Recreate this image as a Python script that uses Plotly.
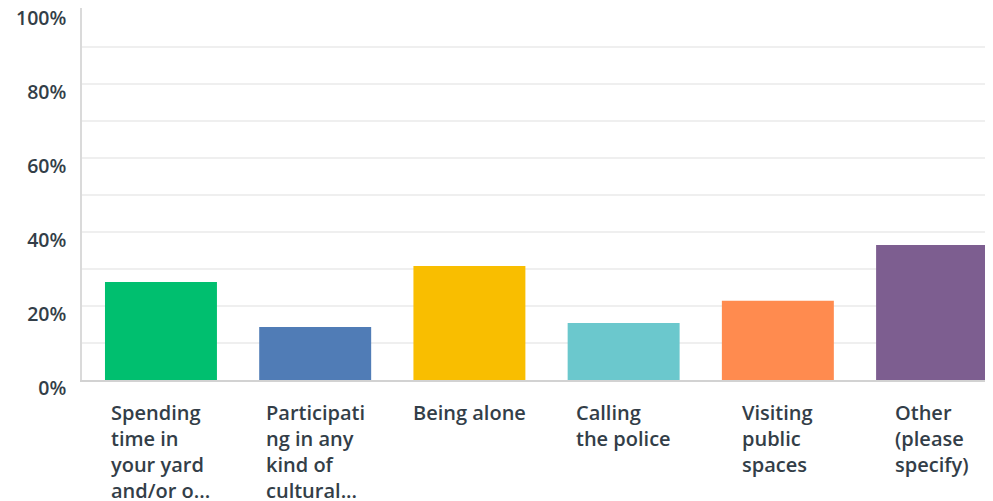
import plotly.graph_objects as go

categories = ["Spending time in your yard and/or o...",
              "Participating in any kind of cultural...",
              "Being alone", "Calling the police",
              "Visiting public spaces", "Other (please specify)"]
label_lines = ["Spending<br>time in<br>your yard<br>and/or o...",
               "Participati<br>ng in any<br>kind of<br>cultural...",
               "Being alone",
               "Calling<br>the police",
               "Visiting<br>public<br>spaces",
               "Other<br>(please<br>specify)"]
values = [26.5, 14.3, 30.8, 15.4, 21.4, 36.5]
colors = ["#00BF6F", "#507CB6", "#F9BE00", "#6BC8CD", "#FF8B4F", "#7D5E90"]
y_ticks = [0, 20, 40, 60, 80, 100]
y_tick_text = ["0%", "20%", "40%", "60%", "80%", "100%"]
grid_ticks = [10, 20, 30, 40, 50, 60, 70, 80, 90]

FONT = "Open Sans"
TXT = "#333E48"

fig = go.Figure()
fig.add_trace(go.Bar(x=categories, y=values, marker=dict(color=colors, line=dict(width=0)),
                     hoverinfo="skip"))
# invisible trace to host grid axis
fig.add_trace(go.Scatter(x=categories, y=values, yaxis="y2", mode="markers",
                         marker=dict(opacity=0), hoverinfo="skip", showlegend=False))

yr = [0, 100.54]
fig.update_layout(
    width=985, height=493,
    margin=dict(l=74, r=0, t=0, b=121),
    paper_bgcolor="white", plot_bgcolor="white",
    showlegend=False,
    bargap=0.274,
    xaxis=dict(type="category", range=[-0.512, 5.395], showticklabels=False,
               showgrid=False, showline=True, linecolor="#D2D2D2", linewidth=2,
               ticks="", zeroline=False, fixedrange=True, automargin=False),
    yaxis=dict(range=yr, tickvals=y_ticks, ticktext=y_tick_text, showgrid=False,
               showline=True, linecolor="#DADADA", linewidth=1.5, ticks="",
               zeroline=False, ticklabelstandoff=10, ticklabelshift=8,
               ticklabeloverflow="allow", automargin=False,
               tickfont=dict(family=FONT, size=19.5, color=TXT, weight=600)),
    yaxis2=dict(range=yr, overlaying="y", tickvals=grid_ticks, showgrid=True,
                gridcolor="#EFEFEF", gridwidth=1.5, showticklabels=False,
                showline=False, zeroline=False, ticks="", layer="below traces",
                automargin=False),
)

for i, txt in enumerate(label_lines):
    fig.add_annotation(x=categories[i], y=0, xref="x", yref="paper",
                       text=txt, showarrow=False, xanchor="center", yanchor="top",
                       align="left", yshift=-17,
                       font=dict(family=FONT, size=20, color=TXT, weight=600))

fig.write_html("out.html")
